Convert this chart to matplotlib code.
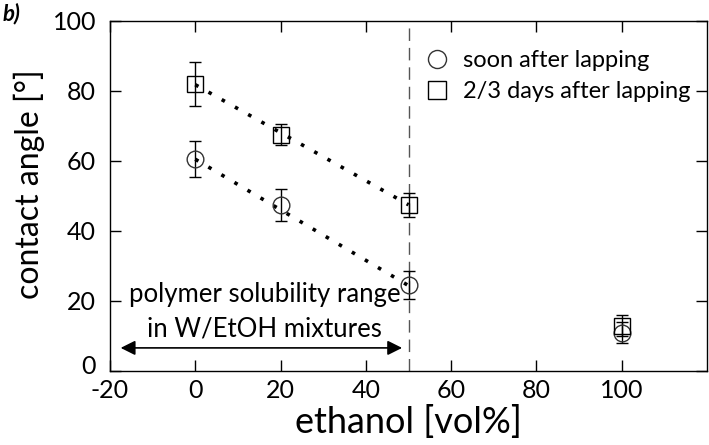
import matplotlib
matplotlib.use("Agg")
import matplotlib.pyplot as plt
import matplotlib.transforms as mtransforms
from matplotlib.lines import Line2D

plt.rcParams['font.family'] = ['Lato', 'DejaVu Sans']
plt.rcParams['axes.unicode_minus'] = False

# Data
ethanol = [0, 20, 50, 100]
soon = [60.5, 47.5, 24.5, 11.0]
soon_err = [5.2, 4.5, 4.0, 3.0]
days = [82.0, 67.5, 47.5, 13.0]
days_err = [6.2, 3.0, 3.5, 3.0]
fit_x = [0, 50]
fit_soon = [60.5, 24.4]
fit_days = [81.8, 47.5]
xticks = [-20, 0, 20, 40, 60, 80, 100]
yticks = [0, 20, 40, 60, 80, 100]

fig = plt.figure(figsize=(7.09, 4.45), dpi=100)
ax = fig.add_axes([110/709, 1-371/445, 597/709, 350/445])

ax.axvline(50, color='#555555', lw=1.0, dashes=(9, 5), zorder=1)

ax.plot(fit_x, fit_days, color='black', lw=2.6, linestyle=(0, (1, 3.2)),
        dash_capstyle='butt', zorder=3)
ax.plot(fit_x, fit_soon, color='black', lw=2.6, linestyle=(0, (1, 3.2)),
        dash_capstyle='butt', zorder=3)

ax.errorbar(ethanol, soon, yerr=soon_err, fmt='o', ms=12, mfc='none', mec='#333333',
            mew=1.0, ecolor='black', elinewidth=1.0, capsize=4, capthick=1.0,
            zorder=4)
ax.errorbar(ethanol, days, yerr=days_err, fmt='s', ms=12, mfc='none', mec='black',
            mew=1.0, ecolor='black', elinewidth=1.0, capsize=4, capthick=1.0,
            zorder=4)

ax.set_xlim(-20, 120)
ax.set_ylim(0, 100)
ax.set_xticks(xticks)
ax.set_yticks(yticks)
ax.tick_params(direction='in', length=8, width=1, top=True, right=True,
               labelsize=18)
ax.tick_params(axis='x', pad=6)
ax.tick_params(axis='y', pad=10)
for s in ax.spines.values():
    s.set_linewidth(1.0)

# lift the "0" y tick label a little, as in the reference
fig.canvas.draw()
ylabels = ax.get_yticklabels()
ylabels[0].set_transform(ylabels[0].get_transform() +
                         mtransforms.ScaledTranslation(0, 6/100, fig.dpi_scale_trans))

ax.set_xlabel('ethanol [vol%]', fontsize=26, labelpad=2)
ax.set_ylabel('contact angle [°]', fontsize=23)
ax.yaxis.set_label_coords(-0.109, 0.534)

handles = [Line2D([], [], marker='o', ls='none', ms=13, mfc='none', mec='#333333', mew=1.0),
           Line2D([], [], marker='s', ls='none', ms=13, mfc='none', mec='black', mew=1.0)]
ax.legend(handles, ['soon after lapping', '2/3 days after lapping'], loc='upper right',
          bbox_to_anchor=(1.0, 0.965), frameon=False, fontsize=17, handletextpad=0.6,
          labelspacing=0.45, handlelength=1.0, borderaxespad=0.3)

ax.text(16.3, 17.0, 'polymer solubility range\nin W/EtOH mixtures', ha='center', va='center',
        fontsize=18.5, linespacing=1.45)
ax.annotate('', xy=(-17.5, 6.6), xytext=(48.5, 6.6),
            arrowprops=dict(arrowstyle='<|-|>', color='black', lw=1.2,
                            mutation_scale=22, shrinkA=0, shrinkB=0))

fig.text(0.004, 1.0 - 20/445, 'b)', fontsize=16, fontweight='bold', style='italic',
         ha='left', va='baseline')

fig.savefig('out.png', dpi=100)
